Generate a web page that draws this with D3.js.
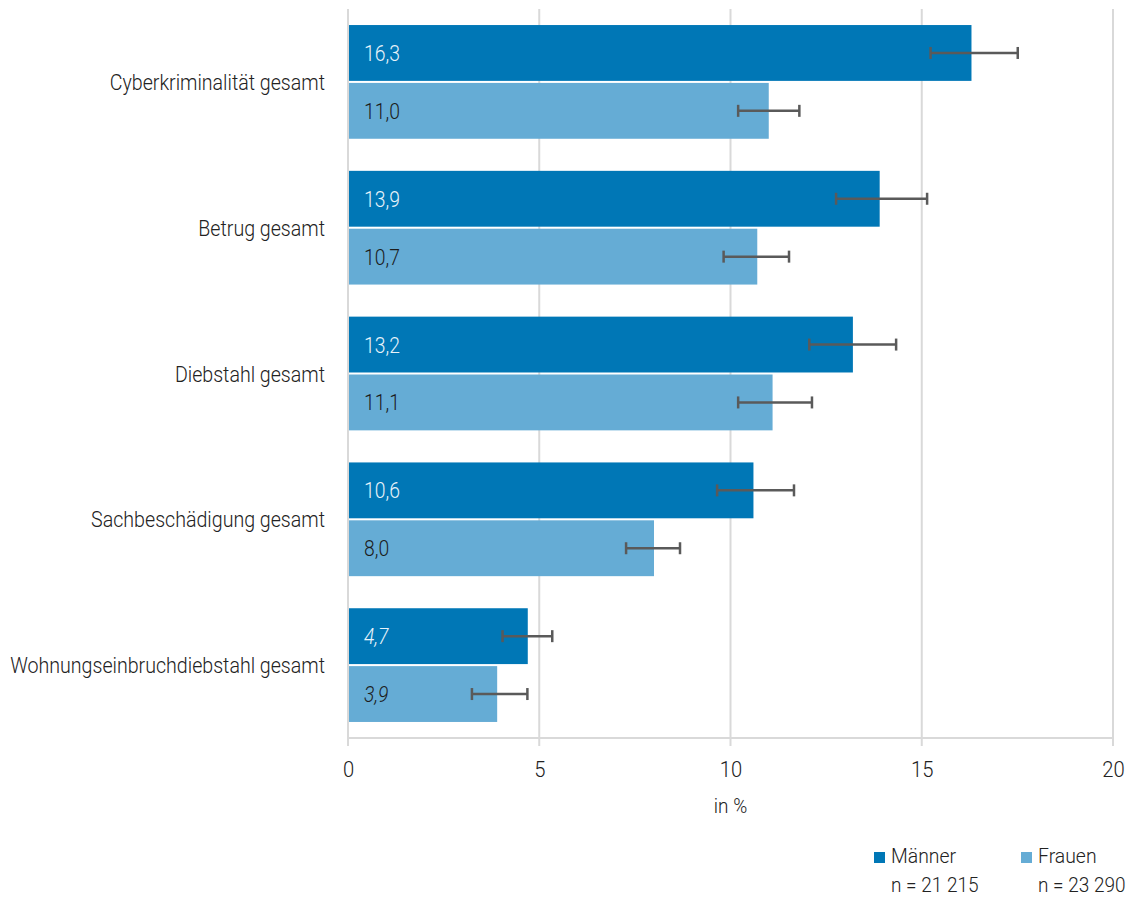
<!DOCTYPE html>
<html><head><meta charset="utf-8">
<script src="https://cdn.jsdelivr.net/npm/d3@7"></script>
<style>body{margin:0;background:#fff;} text{font-family:Roboto,"Noto Sans",sans-serif;font-weight:300;}</style>
</head><body><svg id="c" width="1133" height="897"></svg>
<script>
const categories = ["Cyberkriminalität gesamt","Betrug gesamt","Diebstahl gesamt","Sachbeschädigung gesamt","Wohnungseinbruchdiebstahl gesamt"];
const series = ["Männer","Frauen"];
const seriesN = ["n = 21 215","n = 23 290"];
const maenner = [16.3,13.9,13.2,10.6,4.7];
const frauen = [11.0,10.7,11.1,8.0,3.9];
const maennerLow = [15.23,12.76,12.06,9.65,4.04];
const maennerHigh = [17.51,15.14,14.33,11.66,5.34];
const frauenLow = [10.2,9.82,10.2,7.27,3.24];
const frauenHigh = [11.8,11.53,12.13,8.68,4.69];
const italicCats = ["Wohnungseinbruchdiebstahl gesamt"];
const xTicks = [0,5,10,15,20];
const xTitle = "in %";

const colors = {"Männer":"#0077b6","Frauen":"#65acd5"};
const labelColors = {"Männer":"#e8f3fa","Frauen":"#1c1c1c"};

const svg = d3.select("#c");
const m = {left:348, right:1113, top:9, bottom:738};
const x = d3.scaleLinear().domain([0,20]).range([m.left,m.right]);
const y = d3.scaleBand().domain(categories).range([m.top,m.bottom]).paddingInner(0.22).paddingOuter(0.11);
const ys = d3.scaleBand().domain(series).range([0,y.bandwidth()]).paddingInner(0.035);

// condense text horizontally around its anchor point
function condense(sel, f){
  sel.each(function(){
    const t = d3.select(this);
    const tx = +t.attr("x"), ty = +t.attr("y");
    t.attr("x",0).attr("y",0).attr("transform",`translate(${tx},${ty}) scale(${f},1)`);
  });
}

// gridlines
svg.append("g").selectAll("line").data(xTicks).join("line")
  .attr("x1",d=>x(d)).attr("x2",d=>x(d)).attr("y1",m.top).attr("y2",m.bottom+8)
  .attr("stroke","#d9d9d9").attr("stroke-width",2);
svg.append("line").attr("x1",m.left).attr("x2",m.right).attr("y1",m.bottom).attr("y2",m.bottom)
  .attr("stroke","#d9d9d9").attr("stroke-width",2);

// axis labels
const ax = svg.append("g").attr("transform",`translate(0,${m.bottom})`)
  .call(d3.axisBottom(x).tickValues(xTicks).tickSize(0).tickPadding(0).tickFormat(d=>d));
ax.select(".domain").remove();
ax.selectAll("text").attr("y",39).attr("dy",0).attr("font-size",22).attr("fill","#222")
  .style("font-family","Roboto").style("font-weight",300);
ax.selectAll("text").call(condense,0.92);

svg.append("text").attr("x",x(10)).attr("y",813).attr("text-anchor","middle")
  .attr("font-size",20).attr("fill","#222").text(xTitle).call(condense,0.95);

const rows = [];
categories.forEach((c,i)=>{
  rows.push({cat:c,s:"Männer",v:maenner[i],lo:maennerLow[i],hi:maennerHigh[i]});
  rows.push({cat:c,s:"Frauen",v:frauen[i],lo:frauenLow[i],hi:frauenHigh[i]});
});

const g = svg.append("g");
g.selectAll("rect").data(rows).join("rect")
  .attr("x",x(0)+1).attr("y",d=>y(d.cat)+ys(d.s))
  .attr("width",d=>x(d.v)-x(0)-1).attr("height",ys.bandwidth())
  .attr("fill",d=>colors[d.s]);

// value labels
g.selectAll("text.val").data(rows).join("text").attr("class","val")
  .attr("x",x(0)+16).attr("y",d=>y(d.cat)+ys(d.s)+ys.bandwidth()/2+8)
  .attr("font-size",22).attr("fill",d=>labelColors[d.s])
  .attr("font-style",d=>italicCats.includes(d.cat)?"italic":"normal")
  .text(d=>d3.format(".1f")(d.v).replace(".",","))
  .call(condense,0.88);

// error bars
const eb = g.selectAll("g.eb").data(rows).join("g").attr("class","eb")
  .attr("stroke","#5a5a5a").attr("stroke-width",2.5);
const cy = d=>y(d.cat)+ys(d.s)+ys.bandwidth()/2;
eb.append("line").attr("x1",d=>x(d.lo)).attr("x2",d=>x(d.hi)).attr("y1",cy).attr("y2",cy);
eb.append("line").attr("x1",d=>x(d.lo)).attr("x2",d=>x(d.lo)).attr("y1",d=>cy(d)-6).attr("y2",d=>cy(d)+6);
eb.append("line").attr("x1",d=>x(d.hi)).attr("x2",d=>x(d.hi)).attr("y1",d=>cy(d)-6).attr("y2",d=>cy(d)+6);

// category labels
const cl = svg.append("g").selectAll("text").data(categories).join("text")
  .attr("x",325).attr("y",d=>y(d)+y.bandwidth()/2+8)
  .attr("text-anchor","end").attr("font-size",22).attr("fill","#222").text(d=>d);
let maxW = 0; cl.each(function(){ maxW = Math.max(maxW,this.getComputedTextLength()); });
cl.call(condense, 315/maxW);

// legend
const lx = [874,1021];
const leg = svg.append("g").selectAll("g").data(series).join("g")
  .attr("transform",(d,i)=>`translate(${lx[i]},0)`);
leg.append("rect").attr("x",0).attr("y",852).attr("width",11).attr("height",11).attr("fill",d=>colors[d]);
leg.append("text").attr("x",17).attr("y",863).attr("font-size",20).attr("fill","#222").text(d=>d).call(condense,0.97);
leg.append("text").attr("x",17).attr("y",892).attr("font-size",20).attr("fill","#222").text((d,i)=>seriesN[i]).call(condense,0.95);
</script></body></html>
